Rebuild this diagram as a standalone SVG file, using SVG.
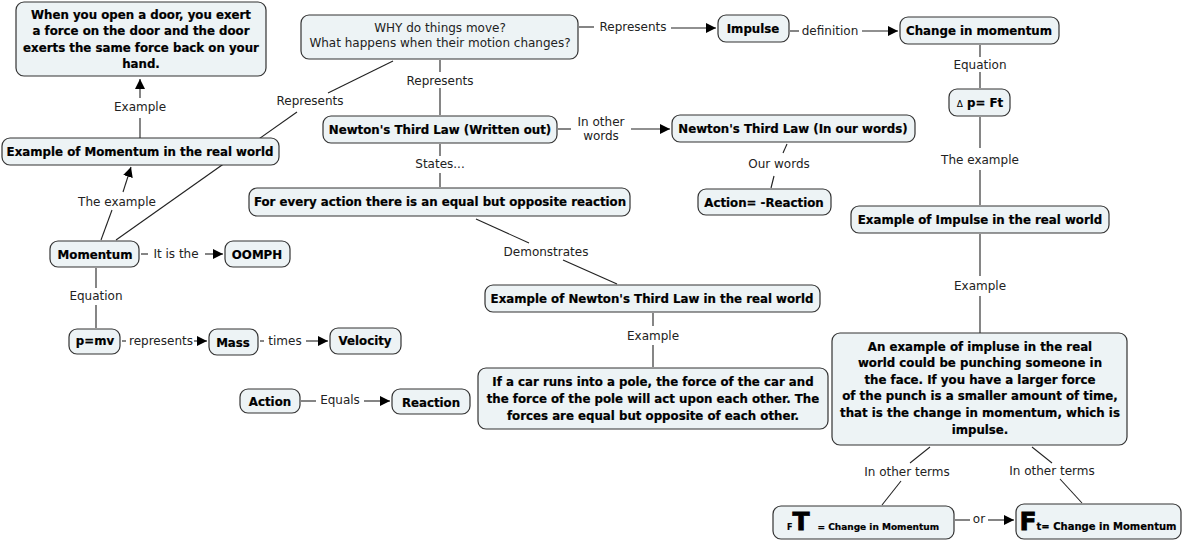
<svg xmlns="http://www.w3.org/2000/svg" width="1183" height="541" viewBox="0 0 1183 541">
<style>
.n rect{fill:#edf3f5;stroke:#333;stroke-width:1.2}
.b{font-family:"DejaVu Sans","Liberation Sans",sans-serif;font-weight:bold;font-size:11.8px;fill:#000;stroke:#000;stroke-width:0.2;text-anchor:middle}
.l{font-family:"DejaVu Sans","Liberation Sans",sans-serif;font-size:12px;fill:#222;text-anchor:middle}
.c line{stroke:#222;stroke-width:1.1}
.a{marker-end:url(#ah)}
</style>
<defs>
<marker id="ah" viewBox="0 0 10 10" refX="10" refY="5" markerWidth="10" markerHeight="10" markerUnits="userSpaceOnUse" orient="auto">
<path d="M0,0 L10,5 L0,10 z" fill="#000"/>
</marker>
</defs>
<rect width="1183" height="541" fill="#fff"/>
<g class="c">
<line x1="140" y1="138" x2="140" y2="118"/>
<line class="a" x1="140" y1="98" x2="140" y2="79"/>
<text class="l" x="140" y="111">Example</text>
<line x1="101" y1="240" x2="112" y2="210"/>
<line class="a" x1="123" y1="192" x2="131" y2="167"/>
<text class="l" x="117" y="206">The example</text>
<line x1="116" y1="240" x2="297" y2="112"/>
<line x1="328" y1="93" x2="393" y2="61"/>
<text class="l" x="310" y="105">Represents</text>
<line x1="440" y1="60" x2="440" y2="72"/>
<line x1="440" y1="88" x2="440" y2="115"/>
<text class="l" x="440" y="85">Represents</text>
<line x1="579" y1="27" x2="594" y2="27"/>
<line class="a" x1="671" y1="28" x2="716" y2="28"/>
<text class="l" x="633" y="31">Represents</text>
<line x1="790" y1="31" x2="799" y2="31"/>
<line class="a" x1="862" y1="31" x2="898" y2="31"/>
<text class="l" x="830" y="35">definition</text>
<line x1="980" y1="45" x2="980" y2="57"/>
<line x1="980" y1="72" x2="980" y2="88"/>
<text class="l" x="980" y="69">Equation</text>
<line x1="980" y1="117" x2="980" y2="148"/>
<line x1="980" y1="170" x2="980" y2="205"/>
<text class="l" x="980" y="164">The example</text>
<line x1="980" y1="234" x2="980" y2="276"/>
<line x1="980" y1="296" x2="980" y2="333"/>
<text class="l" x="980" y="290">Example</text>
<line x1="930" y1="447" x2="910" y2="463"/>
<line x1="901" y1="481" x2="882" y2="505"/>
<text class="l" x="907" y="476">In other terms</text>
<line x1="1032" y1="447" x2="1052" y2="463"/>
<line x1="1060" y1="479" x2="1082" y2="503"/>
<text class="l" x="1052" y="475">In other terms</text>
<line x1="955" y1="520" x2="970" y2="520"/>
<line class="a" x1="988" y1="520" x2="1014" y2="520"/>
<text class="l" x="979" y="523">or</text>
<line x1="558" y1="129" x2="571" y2="129"/>
<line class="a" x1="631" y1="129" x2="670" y2="129"/>
<text class="l" x="601" y="126">In other</text>
<text class="l" x="601" y="140">words</text>
<line x1="787" y1="144" x2="783" y2="153"/>
<line x1="774" y1="176" x2="771" y2="188"/>
<text class="l" x="779" y="168">Our words</text>
<line x1="440" y1="144" x2="440" y2="156"/>
<line x1="440" y1="173" x2="440" y2="187"/>
<text class="l" x="440" y="168">States...</text>
<line x1="476" y1="219" x2="529" y2="243"/>
<line x1="563" y1="260" x2="617" y2="284"/>
<text class="l" x="546" y="256">Demonstrates</text>
<line x1="653" y1="313" x2="653" y2="326"/>
<line x1="653" y1="345" x2="653" y2="367"/>
<text class="l" x="653" y="340">Example</text>
<line x1="141" y1="254" x2="148" y2="254"/>
<line class="a" x1="205" y1="254" x2="223" y2="254"/>
<text class="l" x="176" y="258">It is the</text>
<line x1="96" y1="268" x2="96" y2="288"/>
<line x1="96" y1="305" x2="96" y2="328"/>
<text class="l" x="96" y="300">Equation</text>
<line x1="122" y1="341" x2="126" y2="341"/>
<line class="a" x1="194" y1="341" x2="207" y2="341"/>
<text class="l" x="161" y="345">represents</text>
<line x1="260" y1="341" x2="264" y2="341"/>
<line class="a" x1="306" y1="341" x2="328" y2="341"/>
<text class="l" x="285" y="345">times</text>
<line x1="301" y1="401" x2="316" y2="401"/>
<line class="a" x1="364" y1="401" x2="390" y2="401"/>
<text class="l" x="340" y="404">Equals</text>
</g>
<g id="door" class="n"><rect x="16" y="2" width="250" height="74" rx="8"/>
<text class="b" x="141" y="19">When you open a door, you exert</text>
<text class="b" x="141" y="35">a force on the door and the door</text>
<text class="b" x="141" y="52">exerts the same force back on your</text>
<text class="b" x="141" y="68">hand.</text></g>
<g id="exMomentum" class="n"><rect x="2" y="138" width="277" height="27" rx="8"/>
<text class="b" x="140" y="156">Example of Momentum in the real world</text></g>
<g id="why" class="n"><rect x="301" y="15" width="277" height="44" rx="8"/>
<text class="l" x="440" y="32">WHY do things move?</text>
<text class="l" x="440" y="47">What happens when their motion changes?</text></g>
<g id="impulse" class="n"><rect x="718" y="15" width="71" height="27" rx="8"/>
<text class="b" x="753" y="33">Impulse</text></g>
<g id="changeMomentum" class="n"><rect x="900" y="17" width="159" height="27" rx="8"/>
<text class="b" x="979" y="35">Change in momentum</text></g>
<g id="deltaP" class="n"><rect x="949" y="89" width="61" height="27" rx="8"/>
<text class="b" x="980" y="107"><tspan font-weight="normal" stroke-width="0" font-size="9">Δ</tspan> p= Ft</text></g>
<g id="n3written" class="n"><rect x="323" y="116" width="234" height="27" rx="8"/>
<text class="b" x="440" y="134">Newton's Third Law (Written out)</text></g>
<g id="n3words" class="n"><rect x="672" y="115" width="243" height="27" rx="8"/>
<text class="b" x="793" y="133">Newton's Third Law (In our words)</text></g>
<g id="actionReaction" class="n"><rect x="698" y="189" width="133" height="26" rx="8"/>
<text class="b" x="764" y="207">Action= -Reaction</text></g>
<g id="forEvery" class="n"><rect x="249" y="188" width="381" height="28" rx="8"/>
<text class="b" x="440" y="206">For every action there is an equal but opposite reaction</text></g>
<g id="exImpulse" class="n"><rect x="851" y="206" width="258" height="27" rx="8"/>
<text class="b" x="980" y="224">Example of Impulse in the real world</text></g>
<g id="momentum" class="n"><rect x="50" y="241" width="89" height="26" rx="8"/>
<text class="b" x="95" y="259">Momentum</text></g>
<g id="oomph" class="n"><rect x="225" y="241" width="65" height="26" rx="8"/>
<text class="b" x="257" y="259">OOMPH</text></g>
<g id="exN3" class="n"><rect x="485" y="285" width="335" height="27" rx="8"/>
<text class="b" x="652" y="303">Example of Newton's Third Law in the real world</text></g>
<g id="pmv" class="n"><rect x="69" y="329" width="51" height="25" rx="8"/>
<text class="b" x="95" y="345">p=mv</text></g>
<g id="mass" class="n"><rect x="209" y="329" width="49" height="26" rx="8"/>
<text class="b" x="233" y="347">Mass</text></g>
<g id="velocity" class="n"><rect x="330" y="328" width="71" height="26" rx="8"/>
<text class="b" x="365" y="345">Velocity</text></g>
<g id="action" class="n"><rect x="240" y="389" width="60" height="24" rx="8"/>
<text class="b" x="270" y="406">Action</text></g>
<g id="reaction" class="n"><rect x="392" y="389" width="78" height="25" rx="8"/>
<text class="b" x="431" y="407">Reaction</text></g>
<g id="car" class="n"><rect x="478" y="368" width="350" height="61" rx="8"/>
<text class="b" x="653" y="386">If a car runs into a pole, the force of the car and</text>
<text class="b" x="653" y="403">the force of the pole will act upon each other. The</text>
<text class="b" x="653" y="420">forces are equal but opposite of each other.</text></g>
<g id="punch" class="n"><rect x="832" y="333" width="295" height="112" rx="8"/>
<text class="b" x="980" y="351">An example of impluse in the real</text>
<text class="b" x="980" y="367">world could be punching someone in</text>
<text class="b" x="980" y="384">the face. If you have a larger force</text>
<text class="b" x="980" y="400">of the punch is a smaller amount of time,</text>
<text class="b" x="980" y="417">that is the change in momentum, which is</text>
<text class="b" x="980" y="434">impulse.</text></g>
<g id="fT" class="n"><rect x="773" y="506" width="181" height="33" rx="8"/>
<text class="b" x="863" y="530"><tspan font-size="8">F</tspan><tspan font-size="25" stroke-width="0.8">T</tspan><tspan font-size="9" dx="8">= Change in Momentum</tspan></text></g>
<g id="Ft" class="n"><rect x="1016" y="504" width="165" height="35" rx="8"/>
<text class="b" x="1098" y="530"><tspan font-size="25" stroke-width="0.8">F</tspan><tspan font-size="10">t= Change in Momentum</tspan></text></g>
</svg>
